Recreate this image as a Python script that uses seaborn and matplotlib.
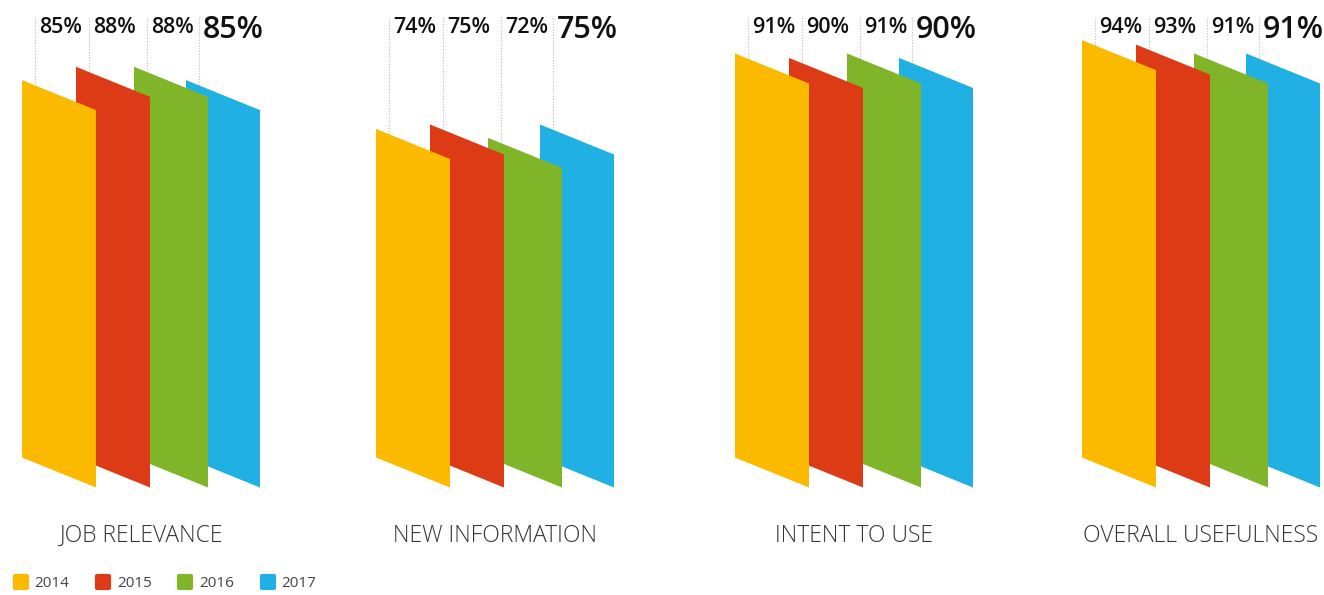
import numpy as np
import pandas as pd
import matplotlib.pyplot as plt
from matplotlib.lines import Line2D
from matplotlib.markers import MarkerStyle
import seaborn as sns

# values (percent)
categories = ['JOB RELEVANCE', 'NEW INFORMATION', 'INTENT TO USE', 'OVERALL USEFULNESS']
years = ['2014', '2015', '2016', '2017']
v2014 = [85, 74, 91, 94]
v2015 = [88, 75, 90, 93]
v2016 = [88, 72, 91, 91]
v2017 = [85, 75, 90, 91]
colors = ['#FBB900', '#DD3B15', '#80B52A', '#20B0E3']

df = pd.DataFrame({
    'category': categories * 4,
    'year': np.repeat(years, 4),
    'value': v2014 + v2015 + v2016 + v2017,
})

sns.set_theme(style='white')
plt.rcParams['font.family'] = ['Open Sans', 'DejaVu Sans']

# layout (group units on x, percent on y)
px = 353.3                  # pixels per group unit
group_x = np.array([0, 354, 713, 1060]) / px
bar_w = 74 / px
offsets = np.array([0, 54, 112, 164]) / px
skew = 6.76                 # drop of the right edge, in percent units
line_dx = 13 / px

fig = plt.figure(figsize=(13.24, 5.95), dpi=100)
ax = fig.add_axes([0, 0, 1, 1])
ax.set_xlim(-22 / px, (1324 - 22) / px)
ax.set_ylim(-30.97, 103.04)
ax.axis('off')

palette = dict(zip(years, colors))
for gi, cat in enumerate(categories):
    sub = df[df.category == cat].reset_index(drop=True)
    gx = group_x[gi]
    # draw back to front: 2017 first, 2014 on top
    for j in reversed(range(len(years))):
        row = sub.iloc[j]
        x0 = gx + offsets[j]
        x1 = x0 + bar_w
        v = row.value
        ax.fill([x0, x1, x1, x0], [0, -skew, v - skew, v],
                color=palette[row.year], lw=0, zorder=2 + (4 - j))
    for j in range(len(years)):
        row = sub.iloc[j]
        lx = gx + offsets[j] + line_dx
        top = row.value - skew * (line_dx / bar_w)
        ax.plot([lx, lx], [top, 99.2], color='#bbbbbb', lw=0.8,
                ls=(0, (1, 1.5)), zorder=1)
        last = j == len(years) - 1
        ax.text(lx + 4 / px, 94.5 if last else 95.6, f'{row.value}%',
                fontsize=22 if last else 15.5, fontweight='semibold',
                color='#111111', ha='left', va='baseline')
    ax.text(gx + (offsets[-1] + bar_w) / 2, -17.6, cat, fontsize=16.5,
            fontweight='light', color='#333333', ha='center', va='center')

handles = [Line2D([], [], ls='none', marker=MarkerStyle('s', joinstyle='round'),
                  markersize=9, markeredgewidth=3, color=c) for c in colors]
fig.legend(handles, years, loc='lower left', bbox_to_anchor=(0.002, -0.012),
           ncol=4, frameon=False, fontsize=11, handlelength=1.0,
           handletextpad=0.4, columnspacing=1.7, borderpad=0.2,
           labelcolor='#444444')

fig.savefig('out.png', dpi=100)
